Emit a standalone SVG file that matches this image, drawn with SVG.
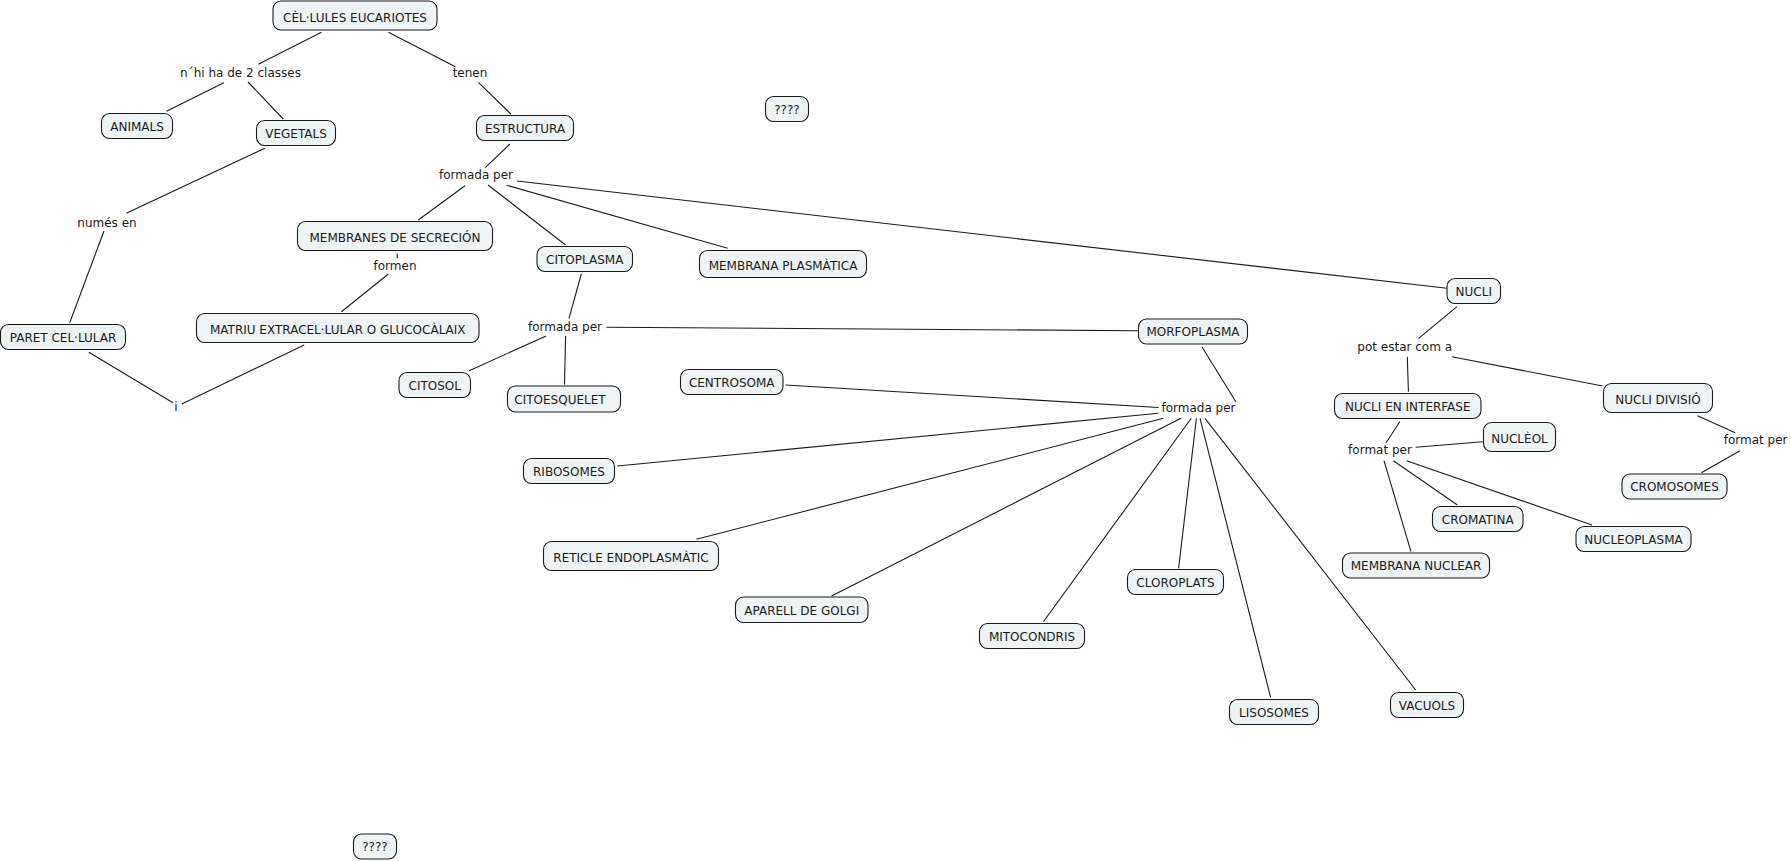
<svg xmlns="http://www.w3.org/2000/svg" width="1791" height="861" viewBox="0 0 1791 861">
<style>
.n rect{fill:#eef3f5;stroke:#1a1a1a;stroke-width:1.1}
text{font-family:"DejaVu Sans",Verdana,sans-serif;font-size:12px;fill:#1a1a1a;text-anchor:middle}
#connectors line{stroke:#1a1a1a;stroke-width:1.1}
</style>
<rect width="1791" height="861" fill="#ffffff"/>
<g id="connectors">
<line x1="321.5" y1="32.3" x2="258.3" y2="64.3"/>
<line x1="223.9" y1="82.7" x2="166.5" y2="111.3"/>
<line x1="248" y1="82" x2="283.2" y2="119"/>
<line x1="388.4" y1="32.3" x2="455.4" y2="66.7"/>
<line x1="478.4" y1="82.3" x2="510.9" y2="114"/>
<line x1="510" y1="144" x2="485.3" y2="167.7"/>
<line x1="465" y1="185.7" x2="418.3" y2="220"/>
<line x1="488" y1="185" x2="565.6" y2="245"/>
<line x1="506.7" y1="185.3" x2="727.7" y2="248.3"/>
<line x1="517" y1="181" x2="1446.9" y2="288.3"/>
<line x1="264.8" y1="148.3" x2="126.3" y2="213.3"/>
<line x1="104" y1="231" x2="69.7" y2="322.7"/>
<line x1="397.2" y1="253.5" x2="397.2" y2="258.3"/>
<line x1="388.4" y1="274" x2="341.4" y2="311.7"/>
<line x1="88.8" y1="352.3" x2="173" y2="402.7"/>
<line x1="181.8" y1="404" x2="304.2" y2="345"/>
<line x1="581.3" y1="274" x2="569" y2="318.3"/>
<line x1="546" y1="336" x2="469.2" y2="370.7"/>
<line x1="565.6" y1="336" x2="564.5" y2="384.5"/>
<line x1="606.3" y1="327.3" x2="1138.4" y2="330.7"/>
<line x1="785.7" y1="385" x2="1158.5" y2="407.5"/>
<line x1="1201.9" y1="346.7" x2="1235.8" y2="401.7"/>
<line x1="1158.2" y1="413.3" x2="617.3" y2="466"/>
<line x1="1163.3" y1="418.3" x2="696.4" y2="539.3"/>
<line x1="1181" y1="418.3" x2="831.6" y2="596"/>
<line x1="1191.3" y1="418.3" x2="1043.4" y2="621.7"/>
<line x1="1196.4" y1="418.3" x2="1178.6" y2="568.3"/>
<line x1="1200" y1="418.3" x2="1270.7" y2="697.7"/>
<line x1="1205" y1="418.3" x2="1415.7" y2="690"/>
<line x1="1457" y1="306.7" x2="1418.6" y2="338.3"/>
<line x1="1407.3" y1="356.7" x2="1408.4" y2="391.7"/>
<line x1="1451.8" y1="356.7" x2="1602.6" y2="386"/>
<line x1="1399.8" y1="421.7" x2="1385.8" y2="443.3"/>
<line x1="1415.6" y1="447.3" x2="1482.7" y2="441.7"/>
<line x1="1384" y1="460.7" x2="1411" y2="551.7"/>
<line x1="1393.4" y1="460.7" x2="1457.4" y2="505"/>
<line x1="1406.6" y1="460.7" x2="1592" y2="525"/>
<line x1="1697.5" y1="415.7" x2="1735.2" y2="432.7"/>
<line x1="1740" y1="450.7" x2="1701.3" y2="472.7"/>
</g>
<g id="labels">
<text x="240.5" y="77">n´hi ha de 2 classes</text>
<text x="470" y="77">tenen</text>
<text x="476" y="179">formada per</text>
<text x="107" y="227">numés en</text>
<text x="395" y="270">formen</text>
<text x="565" y="330.5">formada per</text>
<text x="176" y="411">i</text>
<text x="1404.7" y="350.5">pot estar com a</text>
<text x="1198.5" y="412">formada per</text>
<text x="1380" y="454">format per</text>
<text x="1755.6" y="444">format per</text>
</g>
<g id="n1" class="n"><rect x="273" y="1" width="164" height="29" rx="8"/><text x="355" y="21.5">CÈL·LULES EUCARIOTES</text></g>
<g id="n2" class="n"><rect x="101.5" y="113.5" width="71" height="25" rx="8"/><text x="137" y="130.5">ANIMALS</text></g>
<g id="n3" class="n"><rect x="256.5" y="120.5" width="79" height="25" rx="8"/><text x="296" y="137.5">VEGETALS</text></g>
<g id="n4" class="n"><rect x="476.5" y="115.5" width="97" height="25" rx="8"/><text x="525" y="132.5">ESTRUCTURA</text></g>
<g id="n5" class="n"><rect x="765.5" y="96.5" width="43" height="25" rx="8"/><text x="787" y="113.5">????</text></g>
<g id="n6" class="n"><rect x="297.5" y="221.5" width="195" height="29" rx="8"/><text x="395" y="242">MEMBRANES DE SECRECIÓN</text></g>
<g id="n7" class="n"><rect x="537" y="246.5" width="95.5" height="25" rx="8"/><text x="584.75" y="263.5">CITOPLASMA</text></g>
<g id="n8" class="n"><rect x="699.5" y="250.5" width="167" height="27" rx="8"/><text x="783" y="269.5">MEMBRANA PLASMÀTICA</text></g>
<g id="n9" class="n"><rect x="1447" y="278.5" width="53.5" height="25" rx="8"/><text x="1473.75" y="295.5">NUCLI</text></g>
<g id="n10" class="n"><rect x="0.5" y="324.5" width="125" height="25" rx="8"/><text x="63" y="341.5">PARET CEL·LULAR</text></g>
<g id="n11" class="n"><rect x="196.5" y="313.5" width="282.5" height="29" rx="8"/><text x="337.75" y="334">MATRIU EXTRACEL·LULAR O GLUCOCÀLAIX</text></g>
<g id="n12" class="n"><rect x="1138.5" y="319" width="109" height="25" rx="8"/><text x="1193" y="336">MORFOPLASMA</text></g>
<g id="n13" class="n"><rect x="399" y="372.5" width="71.5" height="25" rx="8"/><text x="434.75" y="389.5">CITOSOL</text></g>
<g id="n14" class="n"><rect x="507.5" y="386" width="113" height="26" rx="8"/><text x="560" y="403.5">CITOESQUELET</text></g>
<g id="n15" class="n"><rect x="680.5" y="369.5" width="102.5" height="25" rx="8"/><text x="731.75" y="386.5">CENTROSOMA</text></g>
<g id="n16" class="n"><rect x="1334.5" y="393.5" width="146.5" height="25" rx="8"/><text x="1407.75" y="410.5">NUCLI EN INTERFASE</text></g>
<g id="n17" class="n"><rect x="1603.5" y="383.5" width="109" height="29" rx="8"/><text x="1658" y="404">NUCLI DIVISIÓ</text></g>
<g id="n18" class="n"><rect x="1483.5" y="422.5" width="72" height="29" rx="8"/><text x="1519.5" y="443">NUCLÈOL</text></g>
<g id="n19" class="n"><rect x="523.5" y="458.5" width="91" height="25" rx="8"/><text x="569" y="475.5">RIBOSOMES</text></g>
<g id="n20" class="n"><rect x="1622" y="474" width="105" height="25" rx="8"/><text x="1674.5" y="491">CROMOSOMES</text></g>
<g id="n21" class="n"><rect x="1432.5" y="506.5" width="90.5" height="25" rx="8"/><text x="1477.75" y="523.5">CROMATINA</text></g>
<g id="n22" class="n"><rect x="1576" y="526.5" width="115" height="25" rx="8"/><text x="1633.5" y="543.5">NUCLEOPLASMA</text></g>
<g id="n23" class="n"><rect x="543.5" y="541.5" width="175" height="29" rx="8"/><text x="631" y="562">RETICLE ENDOPLASMÀTIC</text></g>
<g id="n24" class="n"><rect x="1342.5" y="553" width="147" height="25" rx="8"/><text x="1416" y="570">MEMBRANA NUCLEAR</text></g>
<g id="n25" class="n"><rect x="1127.5" y="569.5" width="96" height="25" rx="8"/><text x="1175.5" y="586.5">CLOROPLATS</text></g>
<g id="n26" class="n"><rect x="735.5" y="597" width="132.5" height="25.5" rx="8"/><text x="801.75" y="614.5">APARELL DE GOLGI</text></g>
<g id="n27" class="n"><rect x="979.5" y="623.5" width="105" height="25" rx="8"/><text x="1032" y="640.5">MITOCONDRIS</text></g>
<g id="n28" class="n"><rect x="1229.5" y="699.5" width="89" height="25" rx="8"/><text x="1274" y="716.5">LISOSOMES</text></g>
<g id="n29" class="n"><rect x="1390.5" y="692.5" width="73" height="25" rx="8"/><text x="1427" y="709.5">VACUOLS</text></g>
<g id="n30" class="n"><rect x="353.5" y="834" width="43" height="25" rx="8"/><text x="375" y="851">????</text></g>
</svg>
